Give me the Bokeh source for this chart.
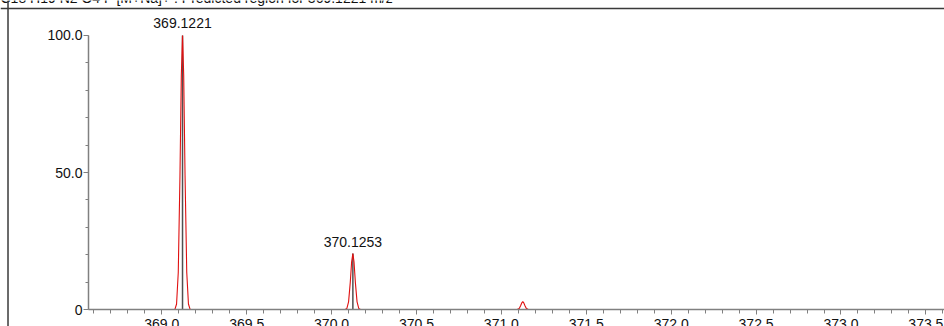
from bokeh.plotting import figure
from bokeh.models import (ColumnDataSource, Range1d, FixedTicker, LabelSet, Span)
from bokeh.core.properties import value
from bokeh.embed import file_html
from bokeh.resources import INLINE

# ---------------- data ----------------
title_text = "C18 H19 N2 O4 F  [M+Na]+ : Predicted region for 369.1221 m/z"

# profile of the predicted isotope peaks (m/z, relative intensity %)
peak1_mz = [369.077, 369.087, 369.097, 369.107, 369.115, 369.1221, 369.129, 369.137, 369.147, 369.157, 369.167]
peak1_int = [0.0, 2.0, 13.5, 48.7, 85.5, 100.0, 85.5, 48.7, 13.5, 2.0, 0.0]

peak2_mz = [370.080, 370.090, 370.100, 370.110, 370.118, 370.1253, 370.132, 370.140, 370.150, 370.160, 370.170]
peak2_int = [0.0, 0.4, 2.8, 9.9, 17.4, 20.4, 17.4, 9.9, 2.8, 0.4, 0.0]

peak3_mz = [371.085, 371.095, 371.105, 371.113, 371.120, 371.126, 371.132, 371.139, 371.147, 371.157, 371.167]
peak3_int = [0.0, 0.06, 0.4, 1.4, 2.4, 2.85, 2.4, 1.4, 0.4, 0.06, 0.0]

# centroid sticks / labels
stick_mz = [369.1221, 370.1253]
stick_int = [100.0, 20.4]
stick_labels = ["369.1221", "370.1253"]

x_major = [369.0, 369.5, 370.0, 370.5, 371.0, 371.5, 372.0, 372.5, 373.0, 373.5]
x_minor = [368.6, 368.7, 368.8, 368.9, 369.0, 369.1, 369.2, 369.3, 369.4, 369.5,
           369.6, 369.7, 369.8, 369.9, 370.0, 370.1, 370.2, 370.3, 370.4, 370.5,
           370.6, 370.7, 370.8, 370.9, 371.0, 371.1, 371.2, 371.3, 371.4, 371.5,
           371.6, 371.7, 371.8, 371.9, 372.0, 372.1, 372.2, 372.3, 372.4, 372.5,
           372.6, 372.7, 372.8, 372.9, 373.0, 373.1, 373.2, 373.3, 373.4, 373.5, 373.6]
x_axis_start = 368.5683          # m/z where the axes meet
x_axis_end = 373.6096
y_major = [0, 50, 100]
y_minor = [0, 10, 20, 30, 40, 50, 60, 70, 80, 90, 100]
y_labels = {0: "0", 50: "50.0", 100: "100.0"}

# view extents (the original screenshot is a cropped window)
X_LO, X_HI = 368.0501, 373.6096
Y_LO, Y_HI = -6.20, 112.77
BOX_LEFT, BOX_TOP = 368.0943, 109.85   # window frame edges
TITLE_Y = 113.86

FONT = "Liberation Sans"

p = figure(width=944, height=326, output_backend="svg", toolbar_location=None,
           x_range=Range1d(X_LO, X_HI), y_range=Range1d(Y_LO, Y_HI),
           min_border_left=0, min_border_right=0, min_border_top=0,
           min_border_bottom=0)
p.outline_line_color = None
p.background_fill_color = "white"
p.border_fill_color = "white"
p.xgrid.visible = False
p.ygrid.visible = False

# frame of the original window (left/top edges visible only)
p.add_layout(Span(location=BOX_LEFT, dimension="height",
                  line_color="#3a3a3a", line_width=1.5))
p.add_layout(Span(location=BOX_TOP, dimension="width",
                  line_color="#3a3a3a", line_width=1.5))

# sticks
p.segment(x0=stick_mz, y0=[0, 0], x1=stick_mz, y1=stick_int,
          line_color="#505050", line_width=1.5)

# profiles
for mz, it in ((peak1_mz, peak1_int), (peak2_mz, peak2_int), (peak3_mz, peak3_int)):
    p.line(mz, it, line_color="#e01010", line_width=1.1)

src = ColumnDataSource(dict(x=stick_mz, y=stick_int, t=stick_labels))
p.add_layout(LabelSet(x="x", y="y", text="t", source=src, y_offset=7,
                      text_align="center", text_baseline="alphabetic",
                      text_font=value(FONT), text_font_size=value("14px"),
                      text_color="#111111"))

# title (cut off at the top like in the original)
p.text(x=[X_LO], y=[TITLE_Y], text=[title_text], text_font=value(FONT),
       text_font_size=value("14px"), text_baseline="alphabetic",
       text_align="left", text_color="#111111")

# axes
ax = p.xaxis[0]
ax.fixed_location = 0
ax.bounds = (x_axis_start, x_axis_end)
ax.ticker = FixedTicker(ticks=x_major, minor_ticks=x_minor)
ax.major_label_overrides = {v: f"{v:.1f}" for v in x_major}
ax.axis_line_color = "#808080"
ax.axis_line_width = 1.5
ax.major_tick_line_color = "#808080"
ax.minor_tick_line_color = "#808080"
ax.major_tick_in = 0
ax.major_tick_out = 5
ax.minor_tick_in = 0
ax.minor_tick_out = 4
ax.major_label_standoff = 4
ax.major_label_text_font = FONT
ax.major_label_text_font_size = "14px"
ax.major_label_text_color = "#111111"

ay = p.yaxis[0]
ay.fixed_location = x_axis_start
ay.bounds = (0, 100)
ay.ticker = FixedTicker(ticks=y_major, minor_ticks=y_minor)
ay.major_label_overrides = y_labels
ay.axis_line_color = "#808080"
ay.axis_line_width = 1.5
ay.major_tick_line_color = "#808080"
ay.minor_tick_line_color = "#808080"
ay.major_tick_in = 0
ay.major_tick_out = 5
ay.minor_tick_in = 0
ay.minor_tick_out = 3
ay.major_label_standoff = 1
ay.major_label_text_font = FONT
ay.major_label_text_font_size = "14px"
ay.major_label_text_color = "#111111"

open("out.html", "w").write(file_html(p, INLINE))
